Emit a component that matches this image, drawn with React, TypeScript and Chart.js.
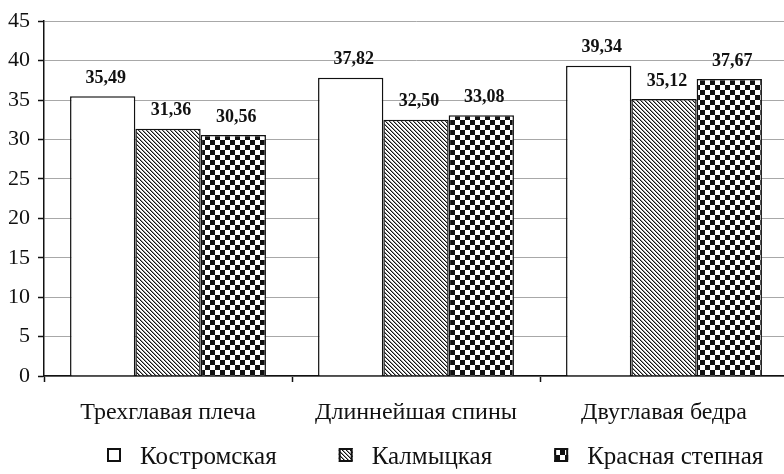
import React, { useEffect, useRef } from "react";
import { Chart, registerables } from "chart.js";

Chart.register(...registerables);

const categories = ["Трехглавая плеча", "Длиннейшая спины", "Двуглавая бедра"];
const seriesNames = ["Костромская", "Калмыцкая", "Красная степная"];
const kostromskaya = [35.49, 37.82, 39.34];
const kalmytskaya = [31.36, 32.5, 35.12];
const krasnayaStepnaya = [30.56, 33.08, 37.67];
const yMin = 0;
const yMax = 45;
const yStep = 5;

const FONT = '"Liberation Serif", "DejaVu Serif", serif';

function makeHatch(): CanvasPattern | string {
  const c = document.createElement("canvas");
  c.width = 4;
  c.height = 4;
  const g = c.getContext("2d")!;
  g.fillStyle = "#ffffff";
  g.fillRect(0, 0, 4, 4);
  for (let i = 0; i < 4; i++) {
    g.fillStyle = "#111111";
    g.fillRect(i, i, 1, 1);
    g.fillStyle = "#999999";
    g.fillRect((i + 1) % 4, i, 1, 1);
  }
  return g.createPattern(c, "repeat") || "#888";
}

function makeChecker(): CanvasPattern | string {
  const c = document.createElement("canvas");
  c.width = 10;
  c.height = 10;
  const g = c.getContext("2d")!;
  g.fillStyle = "#ffffff";
  g.fillRect(0, 0, 10, 10);
  g.fillStyle = "#111111";
  g.fillRect(0, 0, 5, 5);
  g.fillRect(5, 5, 5, 5);
  return g.createPattern(c, "repeat") || "#333";
}

const fmt = (v: number) => v.toFixed(2).replace(".", ",");

const valueLabels = {
  id: "valueLabels",
  afterDatasetsDraw(chart: any) {
    const ctx = chart.ctx;
    ctx.save();
    ctx.font = `bold 18px ${FONT}`;
    ctx.fillStyle = "#111";
    ctx.textAlign = "center";
    ctx.textBaseline = "bottom";
    chart.data.datasets.forEach((ds: any, di: number) => {
      const meta = chart.getDatasetMeta(di);
      meta.data.forEach((el: any, i: number) => {
        ctx.fillText(fmt(ds.data[i]), el.x + 3, el.y - 9);
      });
    });
    ctx.restore();
  },
};

const customLegend = {
  id: "customLegend",
  afterDraw(chart: any) {
    const ctx = chart.ctx;
    const area = chart.chartArea;
    ctx.save();
    ctx.font = `25px ${FONT}`;
    const box = 14;
    const gapText = 19;
    const gapItem = 62;
    const widths = chart.data.datasets.map((d: any) => ctx.measureText(d.label).width);
    let x = area.left + 63;
    const top = area.bottom + 72;
    chart.data.datasets.forEach((d: any, i: number) => {
      ctx.fillStyle = d.backgroundColor;
      ctx.fillRect(x, top, box, box);
      ctx.strokeStyle = "#111";
      ctx.lineWidth = 2;
      ctx.strokeRect(x + 1, top + 1, box - 2, box - 2);
      ctx.fillStyle = "#111";
      ctx.textAlign = "left";
      ctx.textBaseline = "alphabetic";
      ctx.fillText(d.label, x + box + gapText, top + 16);
      x += box + gapText + widths[i] + gapItem;
    });
    ctx.restore();
  },
};

export default function App() {
  const ref = useRef<HTMLCanvasElement | null>(null);

  useEffect(() => {
    if (!ref.current) return;
    const hatch = makeHatch();
    const checker = makeChecker();
    const chart = new Chart(ref.current, {
      type: "bar",
      data: {
        labels: categories,
        datasets: [
          { label: seriesNames[0], data: kostromskaya, backgroundColor: "#ffffff" },
          { label: seriesNames[1], data: kalmytskaya, backgroundColor: hatch as any },
          { label: seriesNames[2], data: krasnayaStepnaya, backgroundColor: checker as any },
        ].map((d) => ({
          ...d,
          borderColor: "#111",
          borderWidth: 1.5,
          categoryPercentage: 0.79,
          barPercentage: 1,
        })),
      },
      options: {
        responsive: false,
        maintainAspectRatio: false,
        animation: false,
        devicePixelRatio: 1,
        layout: { padding: { left: 0, right: 12, top: 19, bottom: 48 } },
        plugins: {
          legend: { display: false },
          tooltip: { enabled: false },
        },
        scales: {
          x: {
            grid: {
              offset: true,
              drawOnChartArea: false,
              drawTicks: true,
              tickLength: 6,
              tickColor: "#111",
              tickWidth: 1.5,
            },
            border: { color: "#111", width: 1.5 },
            ticks: {
              color: "#111",
              font: { family: FONT, size: 24 },
              padding: 16,
              maxRotation: 0,
              autoSkip: false,
            },
            afterFit(scale: any) {
              scale.height = 50;
            },
          },
          y: {
            min: yMin,
            max: yMax,
            grid: {
              color: "#a8a8a8",
              lineWidth: 1,
              tickLength: 6,
              tickColor: "#111",
              tickWidth: 1.5,
            },
            border: { color: "#111", width: 1.5 },
            ticks: {
              stepSize: yStep,
              color: "#111",
              font: { family: FONT, size: 22 },
              padding: 8,
            },
            afterFit(scale: any) {
              scale.width = 44;
            },
          },
        },
      },
      plugins: [valueLabels, customLegend],
    });
    return () => chart.destroy();
  }, []);

  return (
    <div
      style={{
        position: "absolute",
        left: 0,
        top: 0,
        width: 784,
        height: 474,
        overflow: "hidden",
        background: "#fff",
      }}
    >
      <canvas ref={ref} width={800} height={474} style={{ display: "block" }} />
    </div>
  );
}
